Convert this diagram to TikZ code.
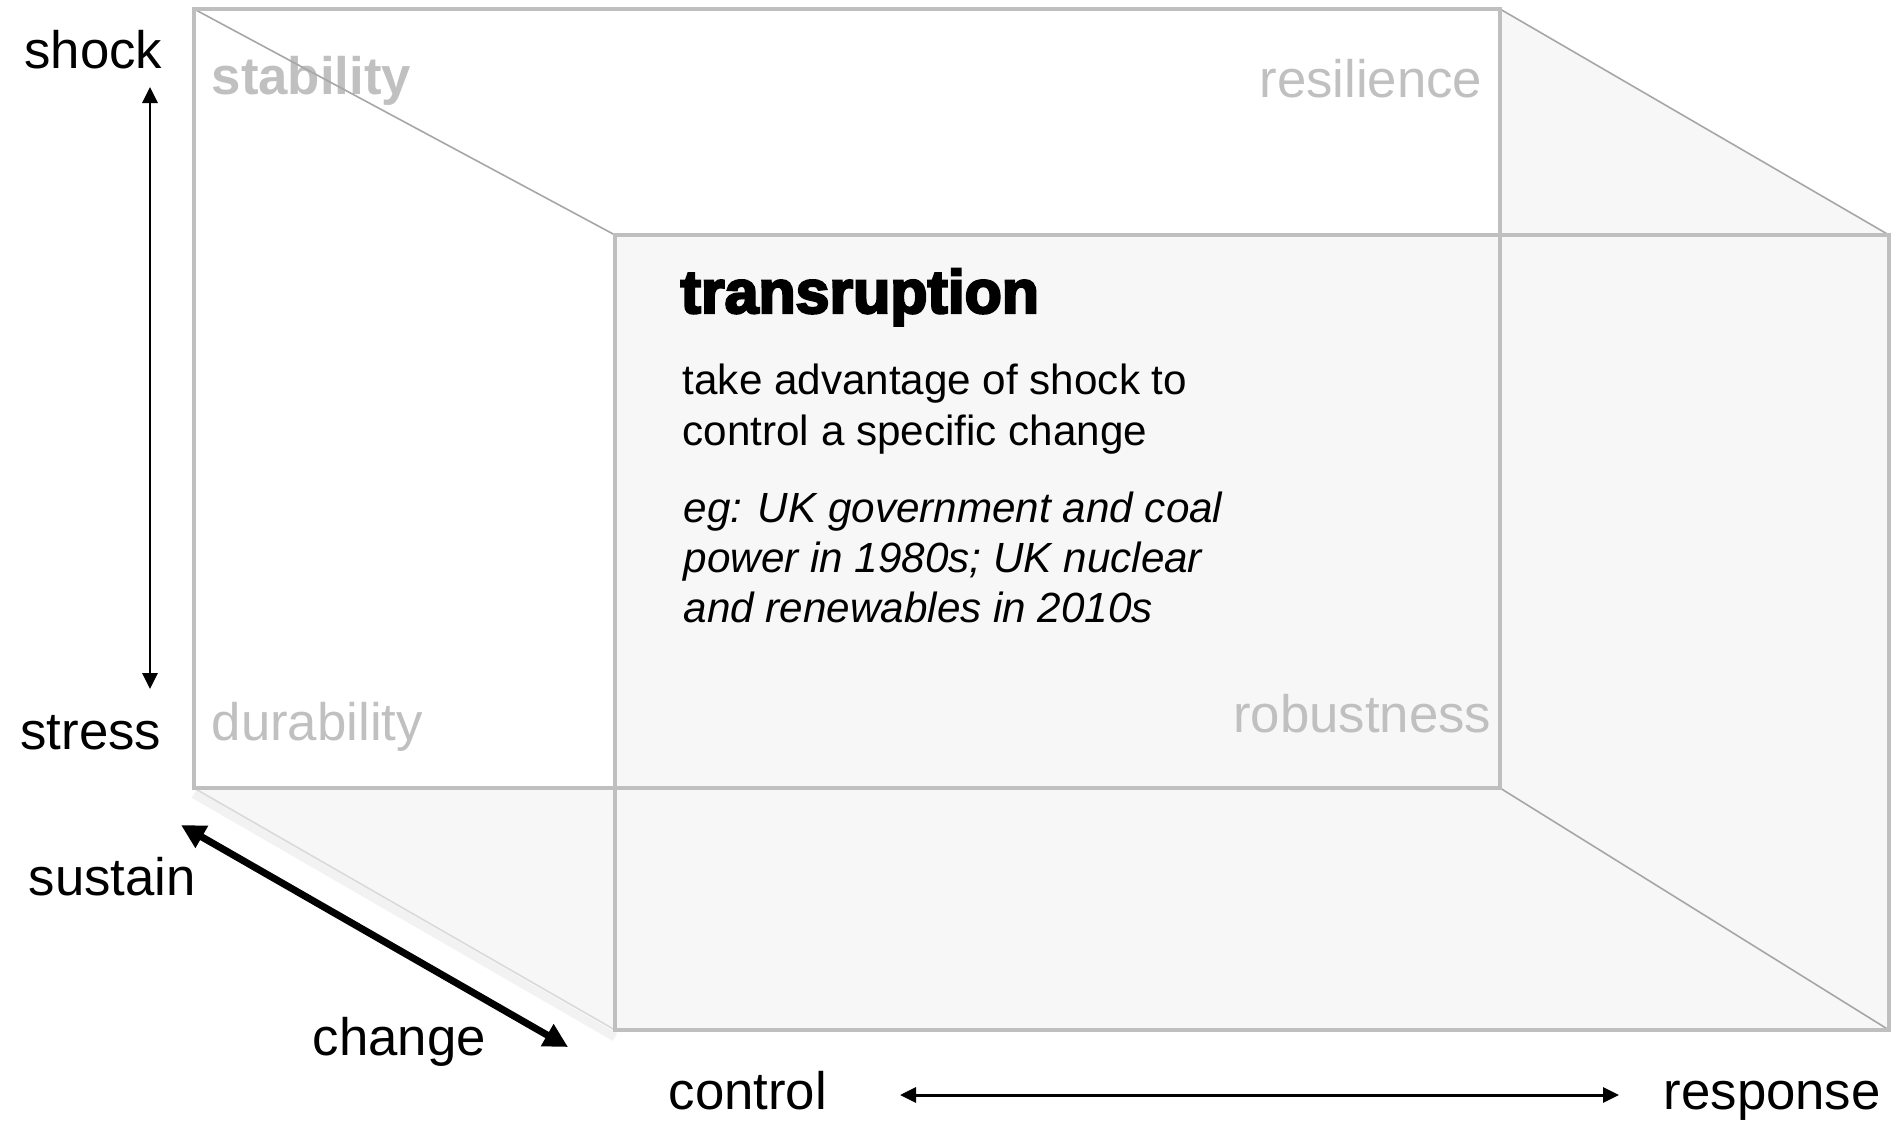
\documentclass[tikz,border=0pt]{standalone}
\usepackage{fontspec}
\setsansfont{Liberation Sans}
\newfontfamily\blackfont[FakeBold=4]{Liberation Sans Bold}
\usetikzlibrary{arrows.meta, positioning}
\definecolor{edgegray}{HTML}{BFBFBF}
\definecolor{linegray}{HTML}{A6A6A6}
\definecolor{facegray}{HTML}{F7F7F7}
\definecolor{labelgray}{HTML}{C0C0C0}

\begin{document}
\begin{tikzpicture}[x=0.01cm, y=-0.01cm, font=\sffamily,
    edge/.style={draw=edgegray, line width=1.15pt},
    slant/.style={draw=linegray, line width=0.45pt},
    corner/.style={text=labelgray, inner sep=0pt, font=\sffamily\fontsize{15}{18}\selectfont},
    axis/.style={inner sep=0pt, font=\sffamily\fontsize{15}{18}\selectfont},
    thinarrow/.style={line width=0.85pt, {Triangle[length=0.16cm,width=0.15cm]}-{Triangle[length=0.16cm,width=0.15cm]}},
    thickarrow/.style={line width=2pt, {Triangle[length=0.24cm,width=0.24cm]}-{Triangle[length=0.24cm,width=0.24cm]}}]
  \useasboundingbox[fill=white] (0,0) rectangle (1895,1121);

  % Sudut kubus
  \coordinate (btl) at (194,9);   \coordinate (btr) at (1500,9);
  \coordinate (bbr) at (1500,788); \coordinate (bbl) at (194,788);
  \coordinate (ftl) at (615,235);  \coordinate (ftr) at (1889,235);
  \coordinate (fbr) at (1889,1030); \coordinate (fbl) at (615,1030);

  % Sisi abu-abu
  \fill[facegray] (bbl) -- (bbr) -- (fbr) -- (fbl) -- cycle;
  \fill[facegray] (btr) -- (ftr) -- (fbr) -- (bbr) -- cycle;
  \fill[facegray] (ftl) rectangle (fbr);

  % Label sudut
  \node[corner, anchor=base west] (stability) at (211,94) {\bfseries stability};
  \foreach \n/\x/\y/\a in {resilience/1483/97/base east, durability/211/740/base west, robustness/1492/732/base east} {
    \node[corner, anchor=\a] (\n) at (\x,\y) {\n};
  }

  % Rusuk kubus
  \draw[line width=2.5pt, draw=black!5] (194,794) -- (615,1037);
  \draw[slant, draw=black!15] (bbl) -- (fbl);
  \foreach \a/\b in {btl/ftl, btr/ftr, bbr/fbr} {
    \draw[slant] (\a) -- (\b);
  }
  \draw[edge] (btl) rectangle (bbr);
  \draw[edge] (ftl) rectangle (fbr);

  % Teks tengah
  \node[anchor=base west, inner sep=0pt, font=\blackfont\fontsize{17.3}{20}\selectfont] (title) at (680,313) {transruption};
  \node[anchor=base west, inner sep=0pt, align=left, font=\sffamily\fontsize{12}{14.5}\selectfont] (desc) at (682,445) {take advantage of shock to\\control a specific change};
  \node[anchor=base west, inner sep=0pt, align=left, font=\sffamily\itshape\fontsize{12}{14.2}\selectfont] (example) at (683,622) {eg: UK government and coal\\power in 1980s; UK nuclear\\and renewables in 2010s};

  % Label sumbu
  \foreach \n/\x/\y/\a in {shock/163/68/base east, stress/162/749/base east, sustain/28/895/base west, change/312/1055/base west, control/668/1109/base west, response/1663/1109/base west} {
    \node[axis, anchor=\a] (\n) at (\x,\y) {\n};
  }

  % Panah
  \coordinate (up) at (150,87);    \coordinate (down) at (150,689);
  \coordinate (rear) at (181,825); \coordinate (fore) at (568,1047);
  \coordinate (left) at (900,1095); \coordinate (right) at (1619,1095);
  \draw[thinarrow] (down) -- (up);
  \draw[thickarrow] (rear) -- (fore);
  \draw[thinarrow] (left) -- (right);
\end{tikzpicture}
\end{document}
